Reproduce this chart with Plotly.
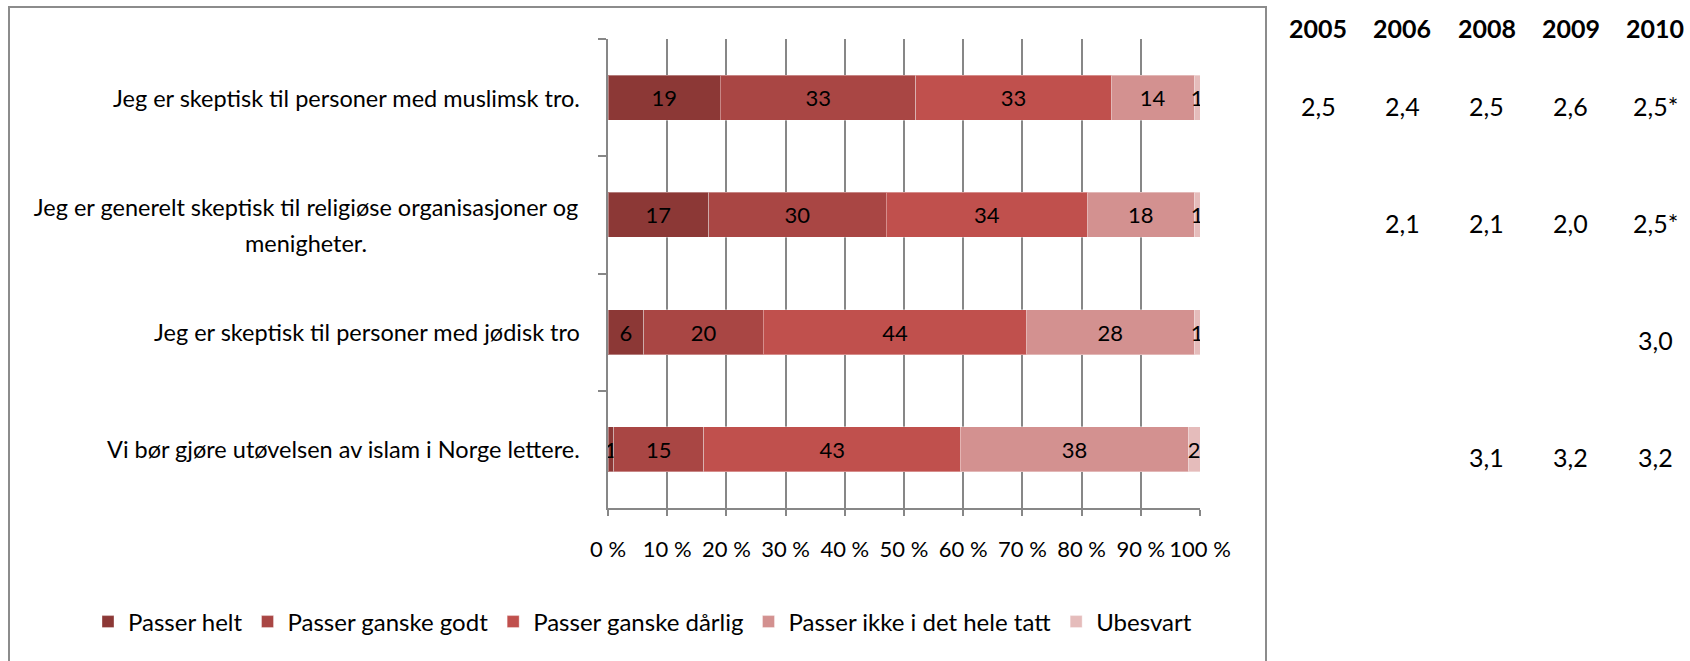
import plotly.graph_objects as go

# ---------------- data ----------------
categories = [
    "Jeg er skeptisk til personer med muslimsk tro.",
    "Jeg er generelt skeptisk til religiøse organisasjoner og<br>menigheter.",
    "Jeg er skeptisk til personer med jødisk tro",
    "Vi bør gjøre utøvelsen av islam i Norge lettere.",
]
series_names = ["Passer helt", "Passer ganske godt", "Passer ganske dårlig",
                "Passer ikke i det hele tatt", "Ubesvart"]
passer_helt = [19, 17, 6, 1]
passer_ganske_godt = [33, 30, 20, 15]
passer_ganske_darlig = [33, 34, 44, 43]
passer_ikke = [14, 18, 28, 38]
ubesvart = [1, 1, 1, 2]

x_tickvals = [0, 10, 20, 30, 40, 50, 60, 70, 80, 90, 100]
x_ticktext = ["0 %", "10 %", "20 %", "30 %", "40 %", "50 %", "60 %", "70 %", "80 %", "90 %", "100 %"]

years = ["2005", "2006", "2008", "2009", "2010"]
mean_muslimsk = ["2,5", "2,4", "2,5", "2,6", "2,5*"]
mean_religiose = ["", "2,1", "2,1", "2,0", "2,5*"]
mean_jodisk = ["", "", "", "", "3,0"]
mean_islam = ["", "", "3,1", "3,2", "3,2"]

# ---------------- style ----------------
FONT = "Lato, 'Open Sans', sans-serif"
colors = ["#8C3836", "#A94644", "#C0504D", "#D39190", "#E5BCBB"]
GRID = "#878787"

series_values = [passer_helt, passer_ganske_godt, passer_ganske_darlig, passer_ikke, ubesvart]

W, H = 1690, 661
L = 608
T = 39
PB = 508           # bottom of plot (px)
B = H - PB
R = 0
pw = W - L - R
ph = H - T - B


def fx(px):
    return (px - L) / pw


def fy(py):
    return (PB - py) / ph


fig = go.Figure()
for name, vals, col in zip(series_names, series_values, colors):
    fig.add_trace(go.Bar(
        name=name, y=categories, x=vals, orientation="h",
        marker=dict(color=col, line=dict(color="rgba(255,255,255,0.35)", width=1)),
        text=[str(v) for v in vals], textposition="inside", insidetextanchor="middle",
        textangle=0, textfont=dict(family=FONT, size=22, color="black"),
        hoverinfo="skip",
    ))

year_idx = list(range(len(years)))
# invisible anchor trace for the table axis
fig.add_trace(go.Scatter(x=year_idx, y=[categories[0]] * len(years), xaxis="x2", yaxis="y",
                         mode="markers", marker=dict(opacity=0), showlegend=False,
                         hoverinfo="skip"))

annotations = []
# category labels
for cat in categories:
    lines = cat.split("<br>")
    n = len(lines)
    for i, line in enumerate(lines):
        ys = 0 if n == 1 else (-(i - (n - 1) / 2) * 36 - 10)
        a = dict(xref="paper", yref="y", x=0, y=cat, text=line, showarrow=False,
                 xanchor="right", yanchor="middle", xshift=-26, yshift=ys,
                 font=dict(family=FONT, size=23.5, color="black"))
        if n > 1:
            a.update(width=548, align="center")
        annotations.append(a)

# table headers
for i, yr in zip(year_idx, years):
    annotations.append(dict(xref="x2", yref="paper", x=i, y=fy(28), text="<b>%s</b>" % yr,
                            showarrow=False, xanchor="center", yanchor="middle",
                            font=dict(family=FONT, size=25, color="black")))
# table values
for cat, row in zip(categories, [mean_muslimsk, mean_religiose, mean_jodisk, mean_islam]):
    for i, v in zip(year_idx, row):
        if v:
            annotations.append(dict(xref="x2", yref="y", x=i, y=cat, text=v, showarrow=False,
                                    xanchor="center", yanchor="middle", yshift=-8,
                                    font=dict(family=FONT, size=25, color="black")))

shapes = [dict(type="rect", xref="paper", yref="paper",
               x0=fx(9), x1=fx(1266), y0=fy(700), y1=fy(7),
               line=dict(color="#8C8C8C", width=2), fillcolor="rgba(0,0,0,0)", layer="below")]

col_w = 84.25
tab_left = 1318 - col_w / 2
tab_range = [-0.5, -0.5 + (W - tab_left) / col_w]

fig.update_layout(
    width=W, height=H, autosize=False,
    margin=dict(l=L, r=R, t=T, b=B, pad=0, autoexpand=False),
    paper_bgcolor="white", plot_bgcolor="white",
    barmode="stack", barnorm="percent", bargap=0.616,
    font=dict(family=FONT, size=22, color="black"),
    uniformtext=dict(minsize=22, mode="show"),
    xaxis=dict(domain=[0, fx(1200)], range=[0, 100], tickvals=x_tickvals, ticktext=x_ticktext,
               tickangle=0,
               showgrid=True, gridcolor=GRID, gridwidth=2, zeroline=False,
               showline=True, linecolor=GRID, linewidth=2,
               ticks="outside", ticklen=6, tickcolor=GRID, tickwidth=2,
               tickfont=dict(family=FONT, size=22, color="black"), ticklabelstandoff=15,
               automargin=False, fixedrange=True),
    yaxis=dict(categoryorder="array", categoryarray=categories, autorange="reversed",
               showticklabels=False, showgrid=False, zeroline=False,
               showline=True, linecolor=GRID, linewidth=2,
               ticks="outside", ticklen=8, tickcolor=GRID, tickwidth=2, tickson="boundaries",
               automargin=False, fixedrange=True),
    xaxis2=dict(domain=[fx(tab_left), 1], anchor="y", range=tab_range,
                showticklabels=False, showgrid=False, zeroline=False, showline=False, ticks="",
                automargin=False, fixedrange=True),
    legend=dict(orientation="h", xref="paper", yref="paper",
                x=fx(88), y=fy(622),
                xanchor="left", yanchor="middle", font=dict(family=FONT, size=24, color="black"),
                traceorder="normal", bgcolor="rgba(0,0,0,0)"),
    annotations=annotations, shapes=shapes, showlegend=True,
)

fig.write_html("out.html", config={"displayModeBar": False, "staticPlot": True},
               post_script="document.body.style.margin='0';")
